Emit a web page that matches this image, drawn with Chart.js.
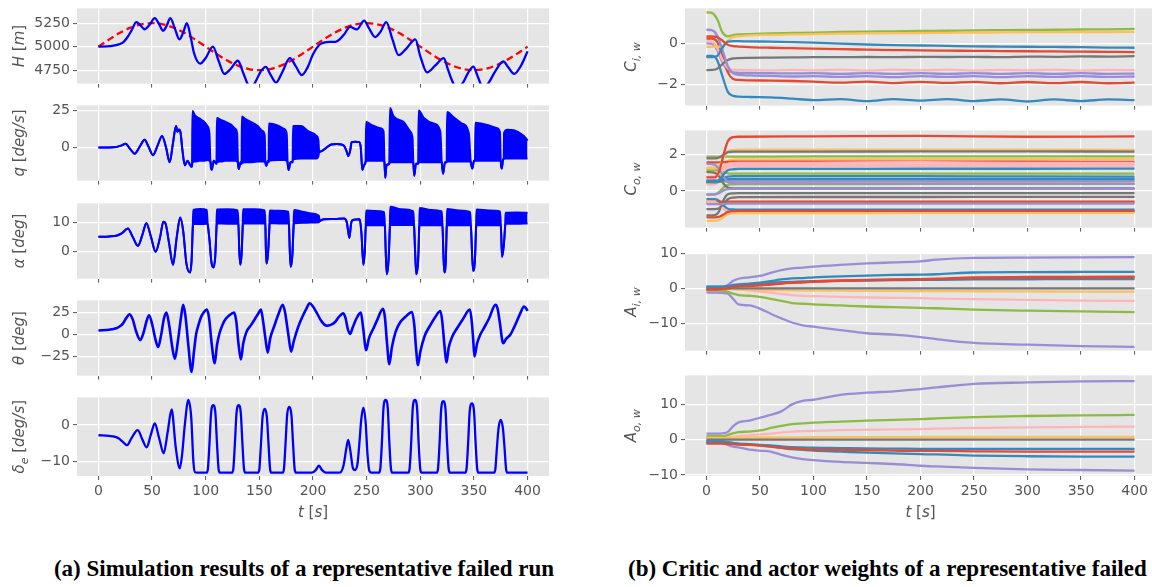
<!DOCTYPE html>
<html><head><meta charset="utf-8">
<script src="https://cdn.jsdelivr.net/npm/chart.js@4.4.0/dist/chart.umd.min.js"></script>
<style>
html,body{margin:0;padding:0;background:#fff;width:1152px;height:587px;overflow:hidden;position:relative}
canvas{position:absolute}
.cap{position:absolute;font-family:"Liberation Serif","Times New Roman",serif;font-weight:bold;font-size:23px;line-height:28px;color:#000;white-space:nowrap}
</style></head><body>
<div class="cap" style="left:0;width:608px;text-align:center;top:555px">(a) Simulation results of a representative failed run</div>
<div class="cap" style="left:628px;top:555px">(b) Critic and actor weights of a representative failed</div>
<script>
// ---------------- data ----------------
const xTicks = [0,50,100,150,200,250,300,350,400];

// H [m] : aircraft altitude and reference
const hT = [0,8,14,19,23,27,31,35.3,39,43,47.5,52.5,56.5,60.3,63.5,67,71,75.5,79,82.4,86,89.2,94.8,100,106.7,112,117.3,123,130,135,140,143,147,151.5,156,160.5,165.5,171,178.5,184,189.5,195,200,206,211,216,221,225,229,234.6,240.9,247.7,252,258,263,268.3,274,279.8,287,295.4,300,306.3,314,321.9,326,331.3,335,340,345,349.5,353,356.5,360,364,370,377.5,382,387.5,394,400];
const hV = [5000,5002,5010,5025,5045,5100,5175,5260,5230,5185,5230,5303,5240,5170,5220,5303,5200,5077,5150,5250,5100,4927,4820,4880,5000,4850,4710,4760,4850,4720,4585,4570,4640,4740,4785,4700,4618,4720,4877,4790,4697,4780,4920,5020,5045,5050,5052,5080,5130,5210,5183,5277,5200,5103,5160,5260,5080,4910,4980,5077,4900,4727,4800,4877,4750,4600,4570,4620,4730,4787,4700,4600,4570,4620,4740,4843,4780,4710,4800,4950];
const hRefT = [0,10,20,30,40,50,60,70,80,90,100,110,120,130,140,150,160,170,180,190,200,210,220,230,240,250,260,270,280,290,300,310,320,330,340,350,360,370,380,390,400];
const hRefV = [5000,5077,5147,5202,5238,5250,5238,5202,5147,5077,5000,4923,4853,4798,4762,4750,4762,4798,4853,4923,5000,5077,5147,5202,5238,5250,5238,5202,5147,5077,5000,4923,4853,4798,4762,4750,4762,4798,4853,4923,5000];

// q [deg/s] : upper / lower envelope (equal where the signal is not chattering)
const qT = [0,10,16.5,21,25.3,29.5,33.7,38.5,43,47,50.8,55,59.3,63,66.4,69.5,72.3,73.6,75,76.5,78.3,80.5,83,85.5,87.2,
 87.6,90,94,98,101.5,103.5,104.3, 105.6,107.5,110,
 110.4,114,118,123.5,127.5,129.3,130, 130.8,132.5,133.4,
 133.7,137,141,148.5,153,155,155.6, 156.5,158,158.6,
 158.9,167,173.5,175.5,176.3, 177.3,179,181,
 181.4,189,195,203,205,205.8,
 208,212,217,222,226.5,229,231,233,234.7,236,239.5,243,244.5,246,247.5,249,
 249.5,254.9,262.6,265.8,266.6, 267.4,268.5,271,
 271.8,275,284.5,290.6,292.8,293.5, 294.4,296,298,
 298.5,303.1,312.5,318.7,320, 321.3,323,324.6,
 325,331.1,338.9,345.2,347, 348.6,350,351,
 351.4,362.3,371.6,374.3,375, 376,377.2,377.8,
 378.1,381.1,387.3,396.6,400];
const qHi = [0,0,0.2,1.2,2.5,-1,-4.2,0.5,5.2,0,-5.2,1,7.7,0,-10,3,14.4,10.5,12,10,-2,-12,-9,-12,-13,
 24.4,21.5,19.5,17.5,14.3,9,-9, -15,-9,-11,
 19.7,18.5,17.3,15.4,12.5,9,-10, -14.5,-10,-11,
 20.7,19,17.5,14.3,11,8,-10, -12.4,-9,-10,
 16,14.7,12.2,9,-10, -15.2,-10,-10,
 14.3,14.3,11.1,7.9,5,-3,
 -2.5,-0.5,1.9,2.2,2,1,-2,-5.8,-2,3.5,3.8,3.5,0,-15.2,-12,-10,
 17,15,12.9,10.8,-10, -20.4,-12,-11,
 26.5,21,17,10.8,6,-10, -19,-11,-11,
 24.8,20,16,10.8,-10, -17.7,-10,-10,
 23.8,20.2,16,9.8,-9.5, -14.2,-9,-9,
 16.5,15,12.9,10,-9, -14.2,-8,-8,
 9.8,11.9,11.5,7.7,4.6];
const qLo = [0,0,0.2,1.2,2.5,-1,-4.2,0.5,5.2,0,-5.2,1,7.7,0,-10,3,14.4,10.5,12,10,-2,-12,-9,-12,-13,
 -10,-9.5,-9,-9,-8.5,-9,-9, -15,-9,-11,
 -10,-9.5,-9,-9,-9,-9.5,-10, -14.5,-10,-11,
 -10.5,-10,-10,-9.5,-9.5,-9.5,-10, -12.4,-9,-10,
 -9,-8.5,-8.5,-9,-10, -15.2,-10,-10,
 -8,-7.5,-7.5,-7.5,-6,-3,
 -2.5,-0.5,1.9,2.2,2,1,-2,-5.8,-2,3.5,3.8,3.5,0,-15.2,-12,-10,
 -9,-9,-9,-9,-10, -20.4,-12,-11,
 -10,-10,-10,-10,-10,-10, -19,-11,-11,
 -10,-10,-10,-10,-10, -17.7,-10,-10,
 -9.5,-9.5,-9.5,-9.5,-9.5, -14.2,-9,-9,
 -9,-9,-9,-9,-9, -14.2,-8,-8,
 -7.5,-7.5,-7.5,-7.5,-7.5];

// alpha [deg] : upper / lower envelope
const aT = [0,10,17.4,22,27.4,32,36.8,41,44.6,49,53.3,57.5,60.5,62.5,66,69.5,73,76.2,79,82,85.4,86.8,87.9,
 88.4,95,101,101.8, 103.5,105.3,107.2,108.8,109.9,
 110.4,120,129.8,130.5, 131.2,132.2,133.4,134.4,
 134.8,145,155,155.6, 156,156.6,158,159.3,
 159.7,168,177,177.6, 178.3,179.2,180.8,181.8,
 182.3,190,198,205.5,206.2,
 210,220,229,231.5,233.9,235.5,237,243.6,245.2,247,248.4,249.2,
 249.6,258,266.3,267, 267.8,268.8,270.4,271.6,
 272,282,293.5,294.2, 295.2,296.3,298,299,
 299.4,310,320,320.7, 321.5,322.4,323.8,324.6,
 325,336,346.5,347.2, 348.2,349.3,350.9,352,
 352.4,364,374.4,375.1, 375.7,376.3,377.8,379.1,
 379.5,390,400];
const aHi = [5.1,5.2,5.5,6.3,7.9,5.0,2.0,5.8,9.7,5.0,0.0,5.0,10.2,9.6,2.5,-4.4,5,11.6,7,-4,-7.0,-3,8,
 14.2,14.5,14.2,9.5, 4,-3.5,-5.3,-2,7,
 14.3,14.4,14.0,9.5, 1,-4.4,-1,8,
 14.4,14.4,14,9.6, 2,-4,-1,8,
 14.0,13.9,13.6,9.6, 1,-5.1,-1,8,
 14.2,13.6,13.0,12.2,10.4,
 11,11.1,11.3,10,4.7,9.5,10.8,11,6,-4.4,1,9,
 14.0,13.8,13.4,9, 0,-7.6,-3,8,
 15.3,14.4,13.7,9, 0,-7.6,-3,8,
 14.8,14.2,13.7,9, 0,-7,-3,8,
 14.5,14,13.4,9, 0,-6.5,-3,8,
 14.3,14,13.7,9, 3,-1.7,2,8.5,
 13.2,13.3,13.2];
const aLo = [5.1,5.2,5.5,6.3,7.9,5.0,2.0,5.8,9.7,5.0,0.0,5.0,10.2,9.6,2.5,-4.4,5,11.6,7,-4,-7.0,-3,8,
 9.5,9.4,9.5,9.5, 4,-3.5,-5.3,-2,7,
 9.6,9.5,9.5,9.5, 1,-4.4,-1,8,
 9.6,9.6,9.6,9.6, 2,-4,-1,8,
 9.7,9.6,9.6,9.6, 1,-5.1,-1,8,
 9.7,9.8,9.9,10.0,10.4,
 11,11.1,11.3,10,4.7,9.5,10.8,11,6,-4.4,1,9,
 9,9,9,9, 0,-7.6,-3,8,
 9.1,9.1,9.1,9, 0,-7.6,-3,8,
 9,9,9,9, 0,-7,-3,8,
 9,9,9,9, 0,-6.5,-3,8,
 9,9,9,9, 3,-1.7,2,8.5,
 9.5,9.5,9.6];

// theta [deg]
const thT = [0,10,16.5,20,22.7,26,29,32,35,39,42,45,47.2,50,53,55.7,58.5,61,63.4,66,68.5,71.2,74,77,79,81,84,86.8,89,91,93.5,96,98,100.9,103,105.5,108.4,110.5,113,116,118.7,122,126.5,128.5,130.5,132.8,135,138,142.2,146,149,151.5,153.5,155.7,157.8,160,164,168,171.8,174,177,179.6,182,186,190,194,196.8,200,203.4,208,212.8,216.5,220.6,224,228.4,230.5,232.5,234.6,237,240,244.6,246.5,249.6,252,256.4,260,265.2,267,269,271.1,273.5,277,281.4,286,292.3,294.5,296,297.9,300,304,309.4,314,318.8,320.5,322.5,324.4,326.5,330,334.3,340,346.2,348,349.3,350.5,353,356,359.2,364,370.1,372,374,377.3,380,384.1,387,390.3,393.5,396.6,398.5,400];
const thV = [4.6,5.5,7.1,9.5,12.5,19,23.2,17,4,-6.4,2,16,22.1,12,-5,-14.3,0,18,25,10,-12,-27.9,-8,20,33.9,22,-15,-42.9,-20,0,12,21,25,28.6,20,-10,-32.9,-12,2,12,17.9,22,25,15,-10,-28.6,-10,3,10.7,18,24,28.6,15,-5,-20.7,-5,10,24,34,25,0,-19.6,-8,8,20,30,35.7,32,25,15,10,11,14.3,20,24.3,18,6,0.7,8,17,25,10,-17.9,-5,7.1,17,29.3,20,-10,-33.9,-15,3,14.3,20,25.7,10,-15,-35,-20,-2,10.7,20,26.8,15,-12,-32.1,-15,-2,7.1,18,28.6,15,-5,-25,-10,0,7.1,18,33.9,30,15,-10,-5,0,7,16,25,32,30,27];

// delta_e [deg/s]
const dT = [0,10,15,19,22,26.6,31,36.6,41,44.9,49,52.5,56.5,60.8,64.5,68.2,72,75.8,78,80.5,83.8,86.5,88.5,90,92,
 100.7,102,103.5,105,107,109,110.5,112,113.3,
 124.4,125.7,127.2,128.7,130.7,132.7,134.2,135.7,137,
 148.7,150,151.5,153,155,157,158.5,160,161.3,
 171.6,172.9,174.4,175.9,177.9,179.9,181.4,182.9,184.2,
 199,202.5,205.5,208.5,212,
 225,228.5,231,232.8,234.8,237,239,241.5,243.5,245,247,249,250.8,252.5,254.5,
 261.4,262.7,264.2,265.7,267.7,269.7,271.2,272.7,274,
 288.7,290,291.5,293,295,297,298.5,300,301.3,
 315.2,316.5,318,319.5,321.5,323.5,325,326.5,327.8,
 341.8,343.1,344.6,346.1,348.1,350.1,351.6,353.1,354.4,
 368.7,370,371.5,373,375,377,378.5,380,381.3,
 400];
const dV = [-2.8,-3.0,-3.2,-3.7,-4.4,-5.5,-3.5,-1.4,-4,-6.1,-2.5,0.4,-3.5,-7.7,-2,4.2,-6,-11.8,-8,0,6.8,2,-10,-12.9,-13,
 -13,-12,-5,3.2,5.4,3.2,-5,-12,-13,
 -13,-12,-5,3.2,5.4,3.2,-5,-12,-13,
 -13,-12,-5,2.2,4.4,2.2,-5,-12,-13,
 -13,-12,-5,2.7,4.9,2.7,-5,-12,-13,
 -13,-12.3,-11.1,-12.3,-13,
 -13,-11,-6.5,-4.1,-7,-11.5,-12.3,-10.5,-4,1.5,4.7,1,-8,-12.5,-13,
 -13,-12,-5,4.6,6.8,4.6,-5,-12,-13,
 -13,-12,-5,4.6,6.8,4.6,-5,-12,-13,
 -13,-12,-5,4.3,6.5,4.3,-5,-12,-13,
 -13,-12,-5,3.7,5.9,3.7,-5,-12,-13,
 -13,-12,-6,-0.8,1.4,-0.8,-6,-12,-13,
 -13];

// C_{i,w} critic input weights
const ciT = [0,5,10,15,20,25,30,40,60,80,100,125,150,175,200,225,250,275,300,325,350,375,400];
const ciRed = [
 [0.35,0.35,0.32,0.15,-0.05,-0.12,-0.14,-0.17,-0.2,-0.22,-0.24,-0.27,-0.29,-0.31,-0.33,-0.34,-0.35,-0.36,-0.37,-0.38,-0.39,-0.40,-0.41],
 [0.25,0.25,0.1,-0.6,-1.4,-1.72,-1.77,-1.79,-1.8,-1.82,-1.85,-1.9,-1.85,-1.92,-1.86,-1.91,-1.86,-1.93,-1.87,-1.92,-1.87,-1.93,-1.9]];
const ciBlue = [
 [-0.65,-0.65,-0.6,-0.2,0.1,0.12,0.12,0.11,0.1,0.08,0.05,0.0,-0.04,-0.07,-0.09,-0.11,-0.13,-0.14,-0.15,-0.16,-0.17,-0.19,-0.2],
 [-0.6,-0.6,-0.8,-1.6,-2.35,-2.55,-2.58,-2.6,-2.62,-2.68,-2.75,-2.7,-2.8,-2.7,-2.78,-2.7,-2.8,-2.72,-2.82,-2.72,-2.8,-2.72,-2.75]];
const ciPurple = [
 [0.68,0.66,0.4,-0.3,-1.1,-1.45,-1.52,-1.55,-1.57,-1.6,-1.58,-1.62,-1.58,-1.63,-1.58,-1.62,-1.58,-1.63,-1.58,-1.62,-1.58,-1.62,-1.6],
 [0.02,0.0,-0.3,-0.9,-1.3,-1.4,-1.42,-1.43,-1.44,-1.45,-1.44,-1.47,-1.44,-1.47,-1.44,-1.47,-1.44,-1.47,-1.44,-1.47,-1.44,-1.47,-1.46]];
const ciGray = [[-1.29,-1.28,-1.22,-1.0,-0.8,-0.72,-0.7,-0.69,-0.68,-0.67,-0.66,-0.66,-0.65,-0.66,-0.64,-0.65,-0.64,-0.66,-0.63,-0.64,-0.62,-0.63,-0.61]];
const ciYellow = [[-0.15,-0.15,-0.15,-0.1,0.15,0.32,0.36,0.4,0.43,0.45,0.47,0.49,0.5,0.51,0.52,0.53,0.54,0.55,0.56,0.56,0.57,0.57,0.58]];
const ciGreen = [[1.53,1.5,1.2,0.55,0.36,0.42,0.45,0.47,0.5,0.52,0.54,0.57,0.59,0.6,0.62,0.63,0.65,0.66,0.67,0.68,0.69,0.7,0.72]];
const ciPink = [[0.12,0.1,-0.2,-0.8,-1.2,-1.27,-1.28,-1.29,-1.3,-1.28,-1.3,-1.27,-1.31,-1.27,-1.3,-1.27,-1.31,-1.28,-1.3,-1.27,-1.31,-1.28,-1.29]];

// C_{o,w} critic output weights
const coT = [0,8,12,16,20,25,30,100,200,300,400];
const coRed = [
 [0.75,0.76,1.1,2.0,2.75,2.98,3.0,3.02,3.05,3.0,3.02],
 [1.58,1.58,1.58,1.6,1.61,1.62,1.62,1.62,1.62,1.62,1.61],
 [-1.45,-1.45,-1.42,-1.3,-1.15,-1.11,-1.1,-1.1,-1.1,-1.1,-1.1],
 [-0.62,-0.62,-0.61,-0.6,-0.59,-0.58,-0.58,-0.58,-0.58,-0.58,-0.58]];
const coBlue = [
 [0.5,0.5,0.6,0.9,1.15,1.2,1.22,1.22,1.23,1.23,1.24],
 [0.55,0.55,0.6,0.72,0.8,0.82,0.82,0.82,0.82,0.81,0.8],
 [0.45,0.46,0.52,0.6,0.66,0.67,0.67,0.67,0.67,0.67,0.67],
 [-0.45,-0.45,-0.55,-0.8,-0.98,-1.02,-1.03,-1.03,-1.03,-1.03,-1.03]];
const coPurple = [
 [1.5,1.45,1.2,0.8,0.5,0.43,0.42,0.42,0.41,0.41,0.4],
 [-0.18,-0.18,-0.1,0.03,0.1,0.12,0.12,0.12,0.12,0.12,0.12],
 [-0.72,-0.72,-0.72,-0.71,-0.7,-0.7,-0.7,-0.7,-0.7,-0.7,-0.7],
 [0.6,0.6,0.6,0.59,0.58,0.58,0.58,0.58,0.58,0.58,0.58]];
const coGray = [
 [1.8,1.8,1.85,2.0,2.15,2.18,2.18,2.18,2.19,2.19,2.18],
 [1.05,1.0,0.8,0.4,0.2,0.15,0.14,0.14,0.14,0.14,0.14],
 [-1.0,-1.0,-0.95,-0.7,-0.45,-0.36,-0.34,-0.33,-0.33,-0.32,-0.32],
 [-1.35,-1.33,-1.1,-0.5,-0.18,-0.13,-0.12,-0.12,-0.12,-0.12,-0.12]];
const coYellow = [
 [1.25,1.26,1.4,1.85,2.2,2.26,2.28,2.28,2.29,2.28,2.27],
 [0.45,0.48,0.7,1.3,1.65,1.73,1.75,1.75,1.76,1.76,1.77],
 [-1.65,-1.65,-1.6,-1.45,-1.28,-1.23,-1.22,-1.22,-1.21,-1.21,-1.2],
 [-0.55,-0.55,-0.57,-0.6,-0.62,-0.62,-0.62,-0.62,-0.62,-0.62,-0.62]];
const coGreen = [
 [1.9,1.9,1.9,1.9,1.9,1.9,1.9,1.91,1.91,1.91,1.91],
 [1.15,1.15,1.12,1.05,0.98,0.96,0.96,0.96,0.96,0.96,0.96],
 [-0.2,-0.18,-0.05,0.2,0.34,0.37,0.38,0.38,0.4,0.4,0.4],
 [0.5,0.5,0.51,0.52,0.53,0.53,0.53,0.53,0.53,0.53,0.53]];
const coPink = [
 [0.8,0.82,0.95,1.3,1.5,1.54,1.55,1.56,1.6,1.55,1.56],
 [1.3,1.3,1.31,1.33,1.35,1.35,1.35,1.36,1.38,1.36,1.36],
 [-0.6,-0.62,-0.75,-1.0,-1.12,-1.14,-1.15,-1.15,-1.15,-1.15,-1.15],
 [0.35,0.37,0.55,1.0,1.35,1.43,1.45,1.45,1.46,1.45,1.45]];

// A_{i,w} actor input weights
const aiT = [0,10,15,20,25,30,40,50,60,70,80,90,100,125,150,175,200,215,250,300,350,400];
const aiRed = [
 [-0.3,-0.3,-0.2,0.1,0.4,0.65,0.8,1.0,1.2,1.5,1.7,1.8,2.0,2.3,2.5,2.6,2.7,2.8,3.2,3.3,3.35,3.4],
 [-0.5,-0.5,-0.4,-0.1,0.3,0.6,0.7,0.9,1.1,1.4,1.6,1.75,1.9,2.2,2.4,2.5,2.6,2.7,3.0,3.1,3.15,3.2]];
const aiBlue = [
 [0.5,0.5,0.5,0.7,1.0,1.2,1.4,1.7,2.1,2.6,2.9,3.0,3.2,3.5,3.7,3.9,4.0,4.1,4.6,4.7,4.75,4.8],
 [0.2,0.2,0.3,0.5,0.7,0.8,1.0,1.3,1.6,1.8,1.9,2.0,2.1,2.2,2.3,2.4,2.5,2.5,2.6,2.65,2.7,2.7]];
const aiPurple = [
 [0.5,0.5,0.5,1.0,2.2,2.8,3.2,3.6,4.5,5.3,5.8,6.0,6.3,6.8,7.2,7.5,7.8,8.3,8.8,8.9,8.95,9.0],
 [-1.2,-1.2,-1.3,-1.5,-3.0,-4.6,-4.9,-5.8,-7.3,-8.6,-9.8,-10.6,-11.0,-12.0,-12.9,-13.3,-14.0,-14.6,-15.7,-16.2,-16.6,-16.8]];
const aiGray = [[-0.1,-0.1,-0.1,-0.05,0,0,0,0,0,0,0,0,0,0,0.05,0.05,0.05,0.05,0.05,0.05,0.05,0.05]];
const aiYellow = [[0,0,0,-0.1,-0.2,-0.3,-0.35,-0.4,-0.45,-0.5,-0.55,-0.6,-0.6,-0.65,-0.7,-0.7,-0.75,-0.75,-0.8,-0.85,-0.9,-0.9]];
const aiGreen = [[-0.5,-0.5,-0.6,-1.0,-1.5,-1.9,-2.1,-2.4,-3.0,-3.6,-4.2,-4.4,-4.6,-4.9,-5.2,-5.4,-5.6,-5.7,-6.1,-6.4,-6.6,-6.8]];
const aiPink = [[0.2,0.2,0.1,0,-0.1,-0.2,-0.6,-0.9,-1.2,-1.6,-1.9,-2.1,-2.2,-2.4,-2.6,-2.7,-2.8,-2.9,-3.1,-3.3,-3.5,-3.6]];

// A_{o,w} actor output weights
const aoT = [0,10,15,20,25,30,40,50,60,70,80,90,100,125,150,175,200,215,250,300,350,400];
const aoRed = [[-1.1,-1.1,-1.1,-1.2,-1.3,-1.4,-1.5,-1.7,-2.0,-2.3,-2.5,-2.7,-2.8,-2.9,-3.0,-3.1,-3.2,-3.2,-3.3,-3.4,-3.4,-3.4]];
const aoBlue = [
 [-0.6,-0.6,-0.6,-0.8,-1.0,-1.2,-1.4,-1.6,-1.8,-2.3,-2.7,-2.9,-3.1,-3.4,-3.7,-3.9,-4.1,-4.2,-4.5,-4.7,-4.8,-4.8],
 [-0.4,-0.4,-0.5,-0.7,-0.9,-1.1,-1.3,-1.5,-1.6,-1.9,-2.1,-2.2,-2.3,-2.4,-2.5,-2.55,-2.6,-2.6,-2.6,-2.6,-2.6,-2.6]];
const aoPurple = [
 [1.7,1.7,1.8,2.2,3.8,4.9,5.4,6.2,7.0,8.0,10.0,11.0,11.3,12.7,13.3,13.7,14.3,14.8,15.8,16.2,16.5,16.6],
 [-0.9,-0.9,-1.0,-1.5,-2.0,-2.2,-2.8,-3.1,-3.4,-4.3,-5.0,-5.5,-5.8,-6.3,-6.6,-6.9,-7.4,-7.6,-8.0,-8.4,-8.6,-8.8]];
const aoGray = [[0,0,0,0,0,0,0,0,0,0,0,0,0,0,0,0,0,0,0,0,0,0]];
const aoYellow = [[0.5,0.5,0.5,0.5,0.55,0.55,0.6,0.6,0.6,0.65,0.65,0.65,0.7,0.7,0.7,0.7,0.75,0.75,0.75,0.8,0.8,0.8]];
const aoGreen = [[1.0,1.0,1.0,1.3,1.8,2.1,2.3,2.6,3.3,3.9,4.4,4.6,4.8,5.1,5.4,5.6,5.8,6.0,6.4,6.7,6.9,7.0]];
const aoPink = [[0.5,0.5,0.5,0.6,0.8,1.0,1.2,1.5,1.7,2.0,2.3,2.4,2.5,2.7,2.8,2.9,3.0,3.1,3.3,3.5,3.6,3.7]];

// ---------------- styling / drawing ----------------
const COL = {red:'#E24A33', blue:'#348ABD', purple:'#988ED5', gray:'#777777', yellow:'#FBC15E', green:'#8EBA42', pink:'#FFB5B8'};
const TXT = '#555555', BG = '#E5E5E5';
const fmt = v => (v < 0 ? '\u2212' : '') + Math.abs(v);
const pts = (t, v) => t.map((x, i) => ({x: x, y: v[i]}));

function lineDs(t, v, color, w, extra) {
  return Object.assign({data: pts(t, v), borderColor: color, backgroundColor: color, borderWidth: w,
    pointRadius: 0, fill: false, cubicInterpolationMode: 'monotone'}, extra || {});
}
function cycleDs(t, groups) {
  const order = ['red','blue','purple','gray','yellow','green','pink'];
  const out = [];
  const n = Math.max(...order.map(k => groups[k].length));
  for (let j = 0; j < n; j++) order.forEach(k => { if (groups[k][j]) out.push(lineDs(t, groups[k][j], COL[k], 2.3)); });
  return out;
}

const bgPlugin = {id: 'bg', beforeDraw(c) {
  const a = c.chartArea, x = c.ctx; x.save(); x.fillStyle = BG;
  x.fillRect(a.left, a.top, a.right - a.left, a.bottom - a.top); x.restore(); }};

function drawParts(ctx, cx, cy, parts, rot) {
  ctx.save(); ctx.translate(cx, cy); if (rot) ctx.rotate(-Math.PI / 2);
  ctx.fillStyle = TXT; ctx.textBaseline = 'alphabetic'; ctx.textAlign = 'left';
  const fonts = parts.map(p => (p[1] === 'n' ? '' : 'italic ') + (p[1] === 's' ? 11 : 15) + 'px "DejaVu Sans"');
  let tot = 0;
  const ws = parts.map((p, i) => { ctx.font = fonts[i]; const w = ctx.measureText(p[0]).width; tot += w; return w; });
  let x = -tot / 2;
  parts.forEach((p, i) => { ctx.font = fonts[i]; ctx.fillText(p[0], x, 5 + (p[1] === 's' ? 4 : 0)); x += ws[i]; });
  ctx.restore();
}
const T_LABEL = [['t','i'],[' [','n'],['s','i'],[']','n']];

function panel(cfg) {
  const PT = 10, PR = 8;
  const cv = document.createElement('canvas');
  const W = cfg.yw + cfg.gw + PR, H = PT + cfg.gh + cfg.xh;
  const cl = cfg.gl - cfg.yw;
  cv.width = W; cv.height = H;
  cv.style.left = cl + 'px'; cv.style.top = (cfg.gt - PT) + 'px';
  cv.style.width = W + 'px'; cv.style.height = H + 'px';
  document.body.appendChild(cv);
  const gridOpt = {color: '#FFFFFF', lineWidth: 1.2, tickColor: TXT, tickLength: 4, tickWidth: 1};
  const tickFont = {family: 'DejaVu Sans', size: 14};
  new Chart(cv, {
    type: 'line',
    data: {datasets: cfg.datasets},
    options: {
      responsive: false, animation: false, devicePixelRatio: 1,
      layout: {padding: {left: 0, top: PT, right: PR, bottom: 0}},
      plugins: {legend: {display: false}, tooltip: {enabled: false}},
      scales: {
        x: {type: 'linear', min: -20, max: 420,
            afterBuildTicks: s => { s.ticks = xTicks.map(v => ({value: v})); },
            afterFit: s => { s.height = cfg.xh; },
            grid: gridOpt, border: {display: false},
            ticks: {display: cfg.bottom, font: tickFont, color: TXT, padding: 3, maxRotation: 0, autoSkip: false, callback: fmt}},
        y: {type: 'linear', min: cfg.min, max: cfg.max,
            afterBuildTicks: s => { s.ticks = cfg.ticks.map(v => ({value: v})); },
            afterFit: s => { s.width = cfg.yw; },
            grid: gridOpt, border: {display: false},
            ticks: {font: tickFont, color: TXT, padding: 3, autoSkip: false, callback: fmt}}
      }
    },
    plugins: [bgPlugin, {id: 'ttl', afterDraw(c) {
      const a = c.chartArea;
      drawParts(c.ctx, cfg.ylx - cl, (a.top + a.bottom) / 2, cfg.ylab, true);
      if (cfg.bottom) drawParts(c.ctx, c.scales.x.getPixelForValue(200), a.bottom + 36, T_LABEL, false);
    }}]
  });
}

const BLUE = '#0000FF';
const L = {gl: 77, gw: 472, yw: 77, gh: 80, ylx: 19};
const R = {gl: 685, gw: 471, yw: 85, gh: 102, ylx: 631};

panel(Object.assign({}, L, {gt: 7, xh: 8, bottom: false, min: 4607, max: 5407, ticks: [4750,5000,5250],
  ylab: [['H','i'],[' [','n'],['m','i'],[']','n']],
  datasets: [lineDs(hT, hV, BLUE, 2.3), lineDs(hRefT, hRefV, '#FF0000', 2.3, {borderDash: [7,4]})]}));
panel(Object.assign({}, L, {gt: 104, xh: 8, bottom: false, min: -22.3, max: 28.2, ticks: [0,25],
  ylab: [['q','i'],[' [','n'],['deg/s','i'],[']','n']],
  datasets: [lineDs(qT, qHi, BLUE, 2), lineDs(qT, qLo, BLUE, 2, {fill: '-1'})]}));
panel(Object.assign({}, L, {gt: 202, xh: 8, bottom: false, min: -9.1, max: 16.4, ticks: [0,10],
  ylab: [['\u03B1','i'],[' [','n'],['deg','i'],[']','n']],
  datasets: [lineDs(aT, aHi, BLUE, 2), lineDs(aT, aLo, BLUE, 2, {fill: '-1'})]}));
panel(Object.assign({}, L, {gt: 299, xh: 8, bottom: false, min: -47, max: 39, ticks: [-25,0,25],
  ylab: [['\u03B8','i'],[' [','n'],['deg','i'],[']','n']],
  datasets: [lineDs(thT, thV, BLUE, 2.6)]}));
panel(Object.assign({}, L, {gt: 396, xh: 50, bottom: true, min: -13.9, max: 7.5, ticks: [-10,0],
  ylab: [['\u03B4','i'],['e','s'],[' [','n'],['deg/s','i'],[']','n']],
  datasets: [lineDs(dT, dV, BLUE, 2.3)]}));

panel(Object.assign({}, R, {gt: 7, xh: 8, bottom: false, min: -3.02, max: 1.72, ticks: [-2,0],
  ylab: [['C','i'],['i, w','s']],
  datasets: cycleDs(ciT, {red: ciRed, blue: ciBlue, purple: ciPurple, gray: ciGray, yellow: ciYellow, green: ciGreen, pink: ciPink})}));
panel(Object.assign({}, R, {gt: 129, xh: 8, bottom: false, min: -2.02, max: 3.35, ticks: [0,2],
  ylab: [['C','i'],['o, w','s']],
  datasets: cycleDs(coT, {red: coRed, blue: coBlue, purple: coPurple, gray: coGray, yellow: coYellow, green: coGreen, pink: coPink})}));
panel(Object.assign({}, R, {gt: 252, xh: 8, bottom: false, min: -17.9, max: 10.1, ticks: [-10,0,10],
  ylab: [['A','i'],['i, w','s']],
  datasets: cycleDs(aiT, {red: aiRed, blue: aiBlue, purple: aiPurple, gray: aiGray, yellow: aiYellow, green: aiGreen, pink: aiPink})}));
panel(Object.assign({}, R, {gt: 374, xh: 50, bottom: true, min: -10.3, max: 18.2, ticks: [-10,0,10],
  ylab: [['A','i'],['o, w','s']],
  datasets: cycleDs(aoT, {red: aoRed, blue: aoBlue, purple: aoPurple, gray: aoGray, yellow: aoYellow, green: aoGreen, pink: aoPink})}));
</script>
</body></html>
